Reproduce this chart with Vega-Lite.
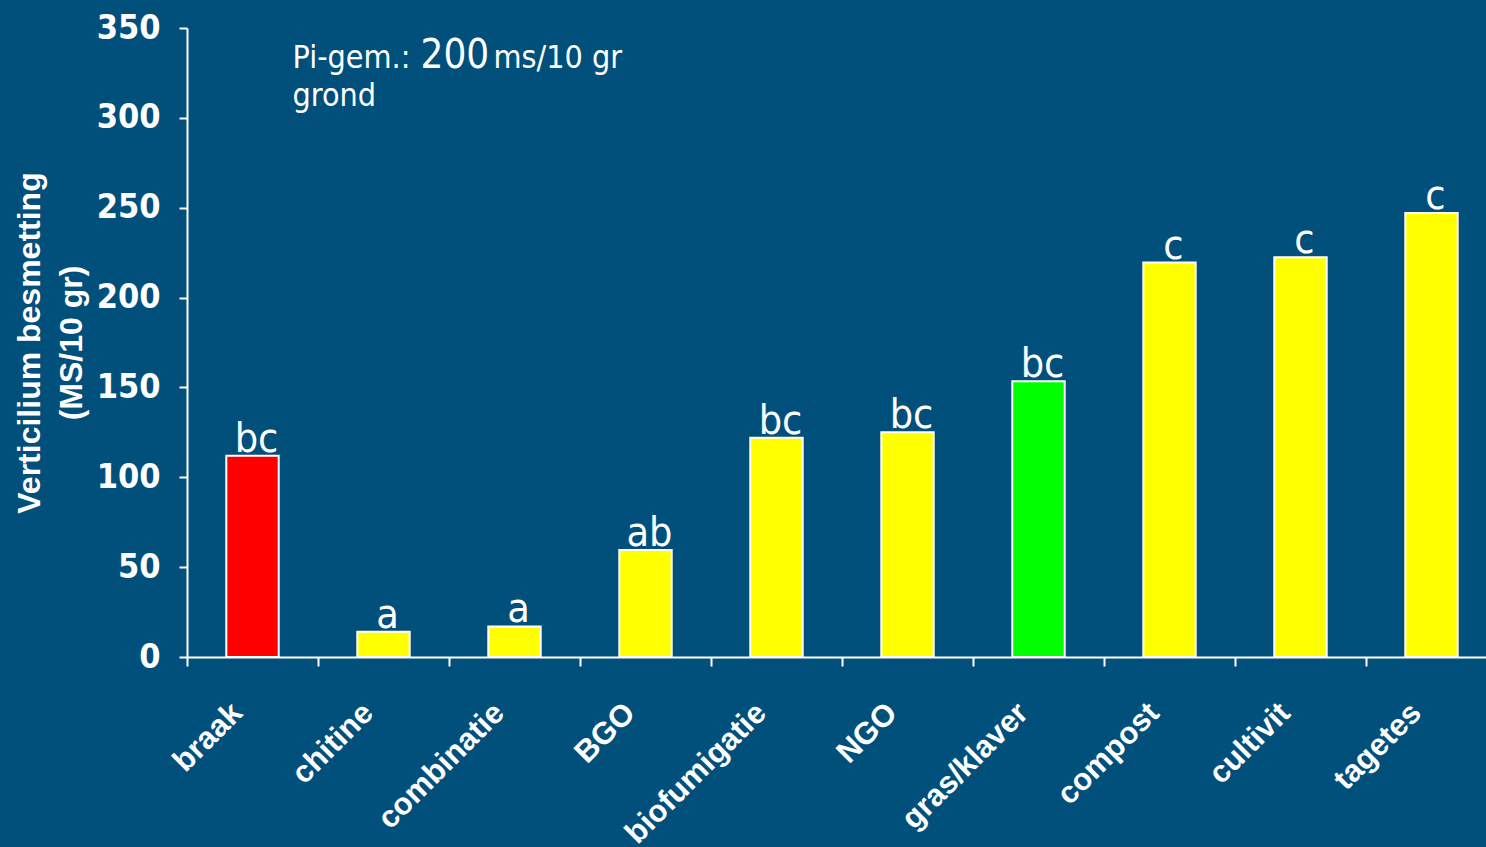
{
  "$schema": "https://vega.github.io/schema/vega-lite/v6.json",
  "width": 1310,
  "height": 629,
  "autosize": {"type": "none"},
  "padding": {"left": 187, "top": 28, "right": 0, "bottom": 190},
  "background": "#014f7b",
  "config": {"view": {"stroke": null}, "font": "Liberation Sans"},
  "datasets": {
    "bars": [
      {"behandeling": "braak", "besmetting": 112, "letter": "bc"},
      {"behandeling": "chitine", "besmetting": 14, "letter": "a"},
      {"behandeling": "combinatie", "besmetting": 17, "letter": "a"},
      {"behandeling": "BGO", "besmetting": 59.5, "letter": "ab"},
      {"behandeling": "biofumigatie", "besmetting": 122, "letter": "bc"},
      {"behandeling": "NGO", "besmetting": 125, "letter": "bc"},
      {"behandeling": "gras/klaver", "besmetting": 153.5, "letter": "bc"},
      {"behandeling": "compost", "besmetting": 219.5, "letter": "c"},
      {"behandeling": "cultivit", "besmetting": 222.5, "letter": "c"},
      {"behandeling": "tagetes", "besmetting": 247, "letter": "c"}
    ]
  },
  "layer": [
    {
      "data": {"name": "bars"},
      "mark": {"type": "bar", "width": {"band": 0.4}, "stroke": "white", "strokeWidth": 2},
      "encoding": {
        "x": {
          "field": "behandeling", "type": "nominal", "sort": null,
          "scale": {"paddingInner": 0, "paddingOuter": 0},
          "axis": {
            "title": null, "bandPosition": 0,
            "domainColor": "white", "domainWidth": 2,
            "tickColor": "white", "tickWidth": 2, "tickSize": 9,
            "labelAngle": -45, "labelAlign": "right", "labelBaseline": "middle",
            "labelColor": "white", "labelFont": "Liberation Sans", "labelFontWeight": "bold",
            "labelFontSize": 31, "labelOffset": -15, "labelPadding": 42, "labelLimit": 400
          }
        },
        "y": {
          "field": "besmetting", "type": "quantitative",
          "scale": {"domain": [0, 350], "nice": false},
          "axis": {
            "title": ["Verticilium besmetting", "(MS/10 gr)"],
            "values": [0, 50, 100, 150, 200, 250, 300, 350],
            "grid": false,
            "domainColor": "white", "domainWidth": 2,
            "tickColor": "white", "tickWidth": 2, "tickSize": 8,
            "labelColor": "white", "labelFont": "DejaVu Sans Condensed, Liberation Sans", "labelFontWeight": "bold",
            "labelFontSize": 34, "labelPadding": 19,
            "titleColor": "white", "titleFont": "Liberation Sans", "titleFontWeight": "bold",
            "titleFontSize": 32, "titleLineHeight": 42, "titlePadding": 8
          }
        },
        "color": {
          "field": "behandeling", "type": "nominal", "legend": null,
          "scale": {
            "domain": ["braak", "chitine", "combinatie", "BGO", "biofumigatie", "NGO", "gras/klaver", "compost", "cultivit", "tagetes"],
            "range": ["#ff0000", "#ffff00", "#ffff00", "#ffff00", "#ffff00", "#ffff00", "#00ff00", "#ffff00", "#ffff00", "#ffff00"]
          }
        }
      }
    },
    {
      "data": {"name": "bars"},
      "mark": {"type": "text", "font": "DejaVu Sans Condensed, Liberation Sans", "fontSize": 41, "color": "white", "baseline": "alphabetic", "dy": -4, "dx": 4},
      "encoding": {
        "x": {"field": "behandeling", "type": "nominal", "sort": null},
        "y": {"field": "besmetting", "type": "quantitative"},
        "text": {"field": "letter"}
      }
    },
    {
      "data": {"values": [{"t": "Pi-gem.:"}]},
      "mark": {"type": "text", "font": "DejaVu Sans Condensed, Liberation Sans", "fontSize": 32, "color": "white", "align": "left", "baseline": "alphabetic", "dx": 40},
      "encoding": {
        "x": {"datum": "braak"},
        "y": {"datum": 328},
        "text": {"field": "t"}
      }
    },
    {
      "data": {"values": [{"t": "200"}]},
      "mark": {"type": "text", "font": "DejaVu Sans Condensed, Liberation Sans", "fontSize": 40, "color": "white", "align": "left", "baseline": "alphabetic", "dx": 168},
      "encoding": {
        "x": {"datum": "braak"},
        "y": {"datum": 328},
        "text": {"field": "t"}
      }
    },
    {
      "data": {"values": [{"t": "ms/10 gr"}]},
      "mark": {"type": "text", "font": "DejaVu Sans Condensed, Liberation Sans", "fontSize": 32, "color": "white", "align": "left", "baseline": "alphabetic", "dx": 241},
      "encoding": {
        "x": {"datum": "braak"},
        "y": {"datum": 328},
        "text": {"field": "t"}
      }
    },
    {
      "data": {"values": [{"t": "grond"}]},
      "mark": {"type": "text", "font": "DejaVu Sans Condensed, Liberation Sans", "fontSize": 32, "color": "white", "align": "left", "baseline": "alphabetic", "dx": 40},
      "encoding": {
        "x": {"datum": "braak"},
        "y": {"datum": 306.5},
        "text": {"field": "t"}
      }
    }
  ]
}
